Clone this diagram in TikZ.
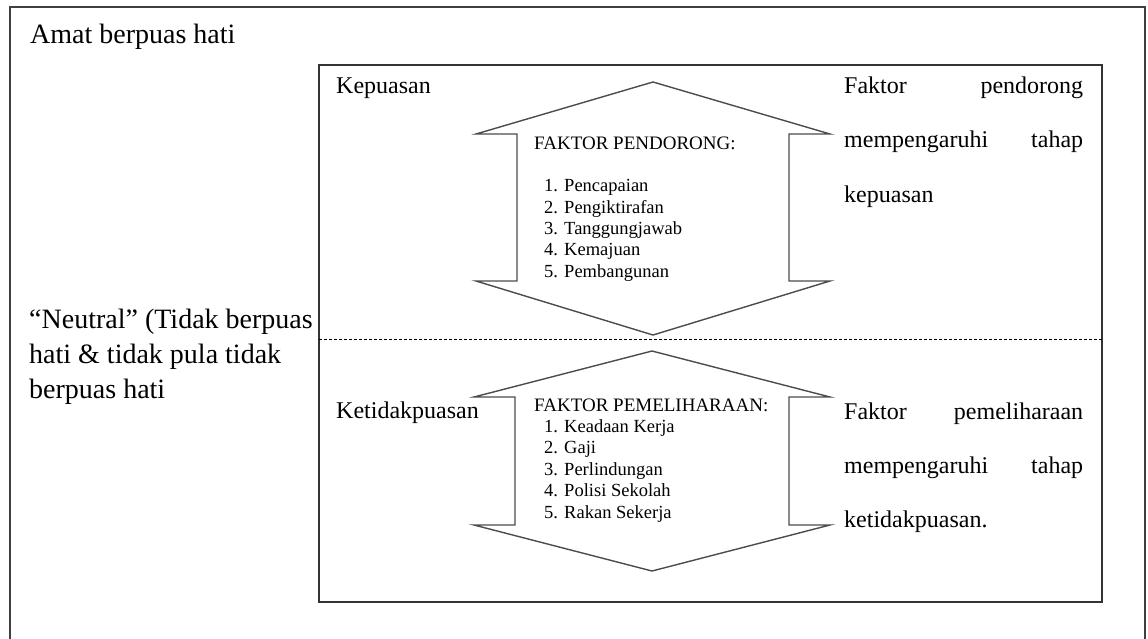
\documentclass[tikz,border=0pt]{standalone}
\usepackage{fontspec}
\setmainfont{Liberation Serif}
\begin{document}
\begin{tikzpicture}[x=1pt,y=-1pt,
  bigtext/.style={inner sep=0pt,anchor=base west,font=\fontsize{28}{35}\selectfont,align=left},
  midtext/.style={inner sep=0pt,anchor=base west,font=\fontsize{24}{30}\selectfont},
  sidetext/.style={inner sep=0pt,anchor=base west,font=\fontsize{24}{54.5}\selectfont,align=left},
  headtext/.style={inner sep=0pt,anchor=base west,font=\fontsize{19}{21}\selectfont},
  listtext/.style={inner sep=0pt,anchor=base west,font=\fontsize{18.5}{21.3}\selectfont,align=left},
  outerframe/.style={draw=black!75,line width=2pt},
  innerframe/.style={draw=black!80,line width=1.5pt,fill=white},
  dblarrow/.style={draw=black!70,line width=1.4pt,line join=miter},
  divider/.style={draw=black,line width=1pt,dash pattern=on 3pt off 2pt}]
\useasboundingbox (0,0) rectangle (1148,638);
\fill[white] (0,0) rectangle (1148,638);

% outer frame, open at the bottom
\draw[outerframe] (10,650) -- (10,7) -- (1145,7) -- (1145,650);

% multi-line nodes are placed by the baseline of their last line
\node[bigtext] (amat) at (30,43) {Amat berpuas hati};
\node[bigtext] (neutral) at (29,398) {“Neutral” (Tidak berpuas\\hati \& tidak pula tidak\\berpuas hati};

% inner frame
\draw[innerframe] (319,65) rectangle (1102,602);
\draw[divider] (319,339) -- (1102,339);

% upper double arrow
\draw[dblarrow] (653,82) -- (830,134) -- (789,134) -- (789,281) -- (830,281)
  -- (653,335) -- (476,281) -- (517,281) -- (517,134) -- (476,134) -- cycle;
% lower double arrow
\draw[dblarrow] (652,351) -- (830,397) -- (789,397) -- (789,525) -- (830,525)
  -- (652,571) -- (474,525) -- (515,525) -- (515,397) -- (474,397) -- cycle;

\node[midtext] (puas) at (336,93) {Kepuasan};
\node[midtext] (tidakpuas) at (336,418) {Ketidakpuasan};

\node[headtext] (pendorong) at (534,149) {FAKTOR PENDORONG:};
\node[listtext] (listatas) at (544,277) {1. Pencapaian\\2. Pengiktirafan\\3. Tanggungjawab\\4. Kemajuan\\5. Pembangunan};

\node[headtext] (pemeliharaan) at (534,411) {FAKTOR PEMELIHARAAN:};
\node[listtext,font=\fontsize{18.5}{21.5}\selectfont] (listbawah) at (544,518) {1. Keadaan Kerja\\2. Gaji\\3. Perlindungan\\4. Polisi Sekolah\\5. Rakan Sekerja};

\node[sidetext] (kananatas) at (844,202) {\makebox[239pt][s]{Faktor pendorong}\\\makebox[239pt][s]{mempengaruhi tahap}\\kepuasan};
\node[sidetext,font=\fontsize{24}{54}\selectfont] (kananbawah) at (844,527) {\makebox[239pt][s]{Faktor pemeliharaan}\\\makebox[239pt][s]{mempengaruhi tahap}\\ketidakpuasan.};
\end{tikzpicture}
\end{document}
